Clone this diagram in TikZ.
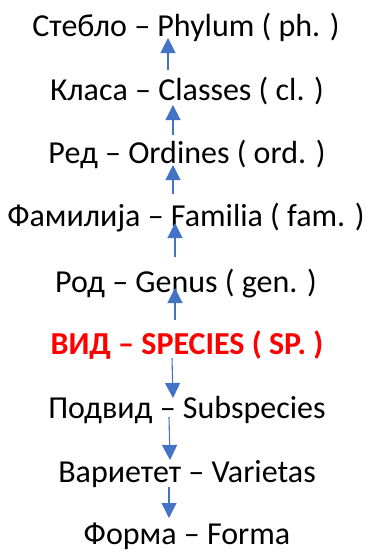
\documentclass[tikz,border=0pt]{standalone}
\usepackage{fontspec}
\setmainfont{Carlito}
\usetikzlibrary{arrows.meta}
\definecolor{arrblue}{HTML}{4472C4}
\definecolor{redtxt}{HTML}{FF0000}
\tikzset{
  lbl/.style={anchor=base, inner sep=0pt, font=\fontsize{32}{36}\selectfont},
  hl/.style={lbl, text=redtxt, font=\fontsize{32}{36}\selectfont\bfseries},
  arr/.style={draw=arrblue, line width=1.1pt, -{Triangle[length=15pt,width=15pt]}, arrblue}
}
\begin{document}
\begin{tikzpicture}[x=1pt,y=-1pt]
\useasboundingbox (0,0) rectangle (367,552);
\node[lbl] (n1) at (186,36) {Стебло – Phylum ( ph. )};
\node[lbl] (n2) at (187,100) {Класа – Classes ( cl. )};
\node[lbl] (n3) at (187,163) {Ред – Ordines ( ord. )};
\node[lbl] (n4) at (186,226) {Фамилија – Familia ( fam. )};
\node[lbl] (n5) at (186,292) {Род – Genus ( gen. )};
\node[hl] (n6) at (187,354) {ВИД – SPECIES ( SP. )};
\node[lbl] (n7) at (187,418) {Подвид – Subspecies};
\node[lbl] (n8) at (187,482) {Вариетет – Varietas};
\node[lbl] (n9) at (187,544) {Форма – Forma};
\coordinate (a1s) at (168,70);  \coordinate (a1e) at (168,38);
\coordinate (a2s) at (173,135); \coordinate (a2e) at (173,105);
\coordinate (a3s) at (173,194); \coordinate (a3e) at (173,165);
\coordinate (a4s) at (175,257); \coordinate (a4e) at (175,223);
\coordinate (a5s) at (175,320); \coordinate (a5e) at (175,288);
\coordinate (a6s) at (172,358); \coordinate (a6e) at (173,398);
\coordinate (a7s) at (169,417); \coordinate (a7e) at (170,460);
\coordinate (a8s) at (169,487); \coordinate (a8e) at (169,518);
\draw[arr] (a1s) -- (a1e);
\draw[arr] (a2s) -- (a2e);
\draw[arr] (a3s) -- (a3e);
\draw[arr] (a4s) -- (a4e);
\draw[arr] (a5s) -- (a5e);
\draw[arr] (a6s) -- (a6e);
\draw[arr] (a7s) -- (a7e);
\draw[arr] (a8s) -- (a8e);
\end{tikzpicture}
\end{document}
